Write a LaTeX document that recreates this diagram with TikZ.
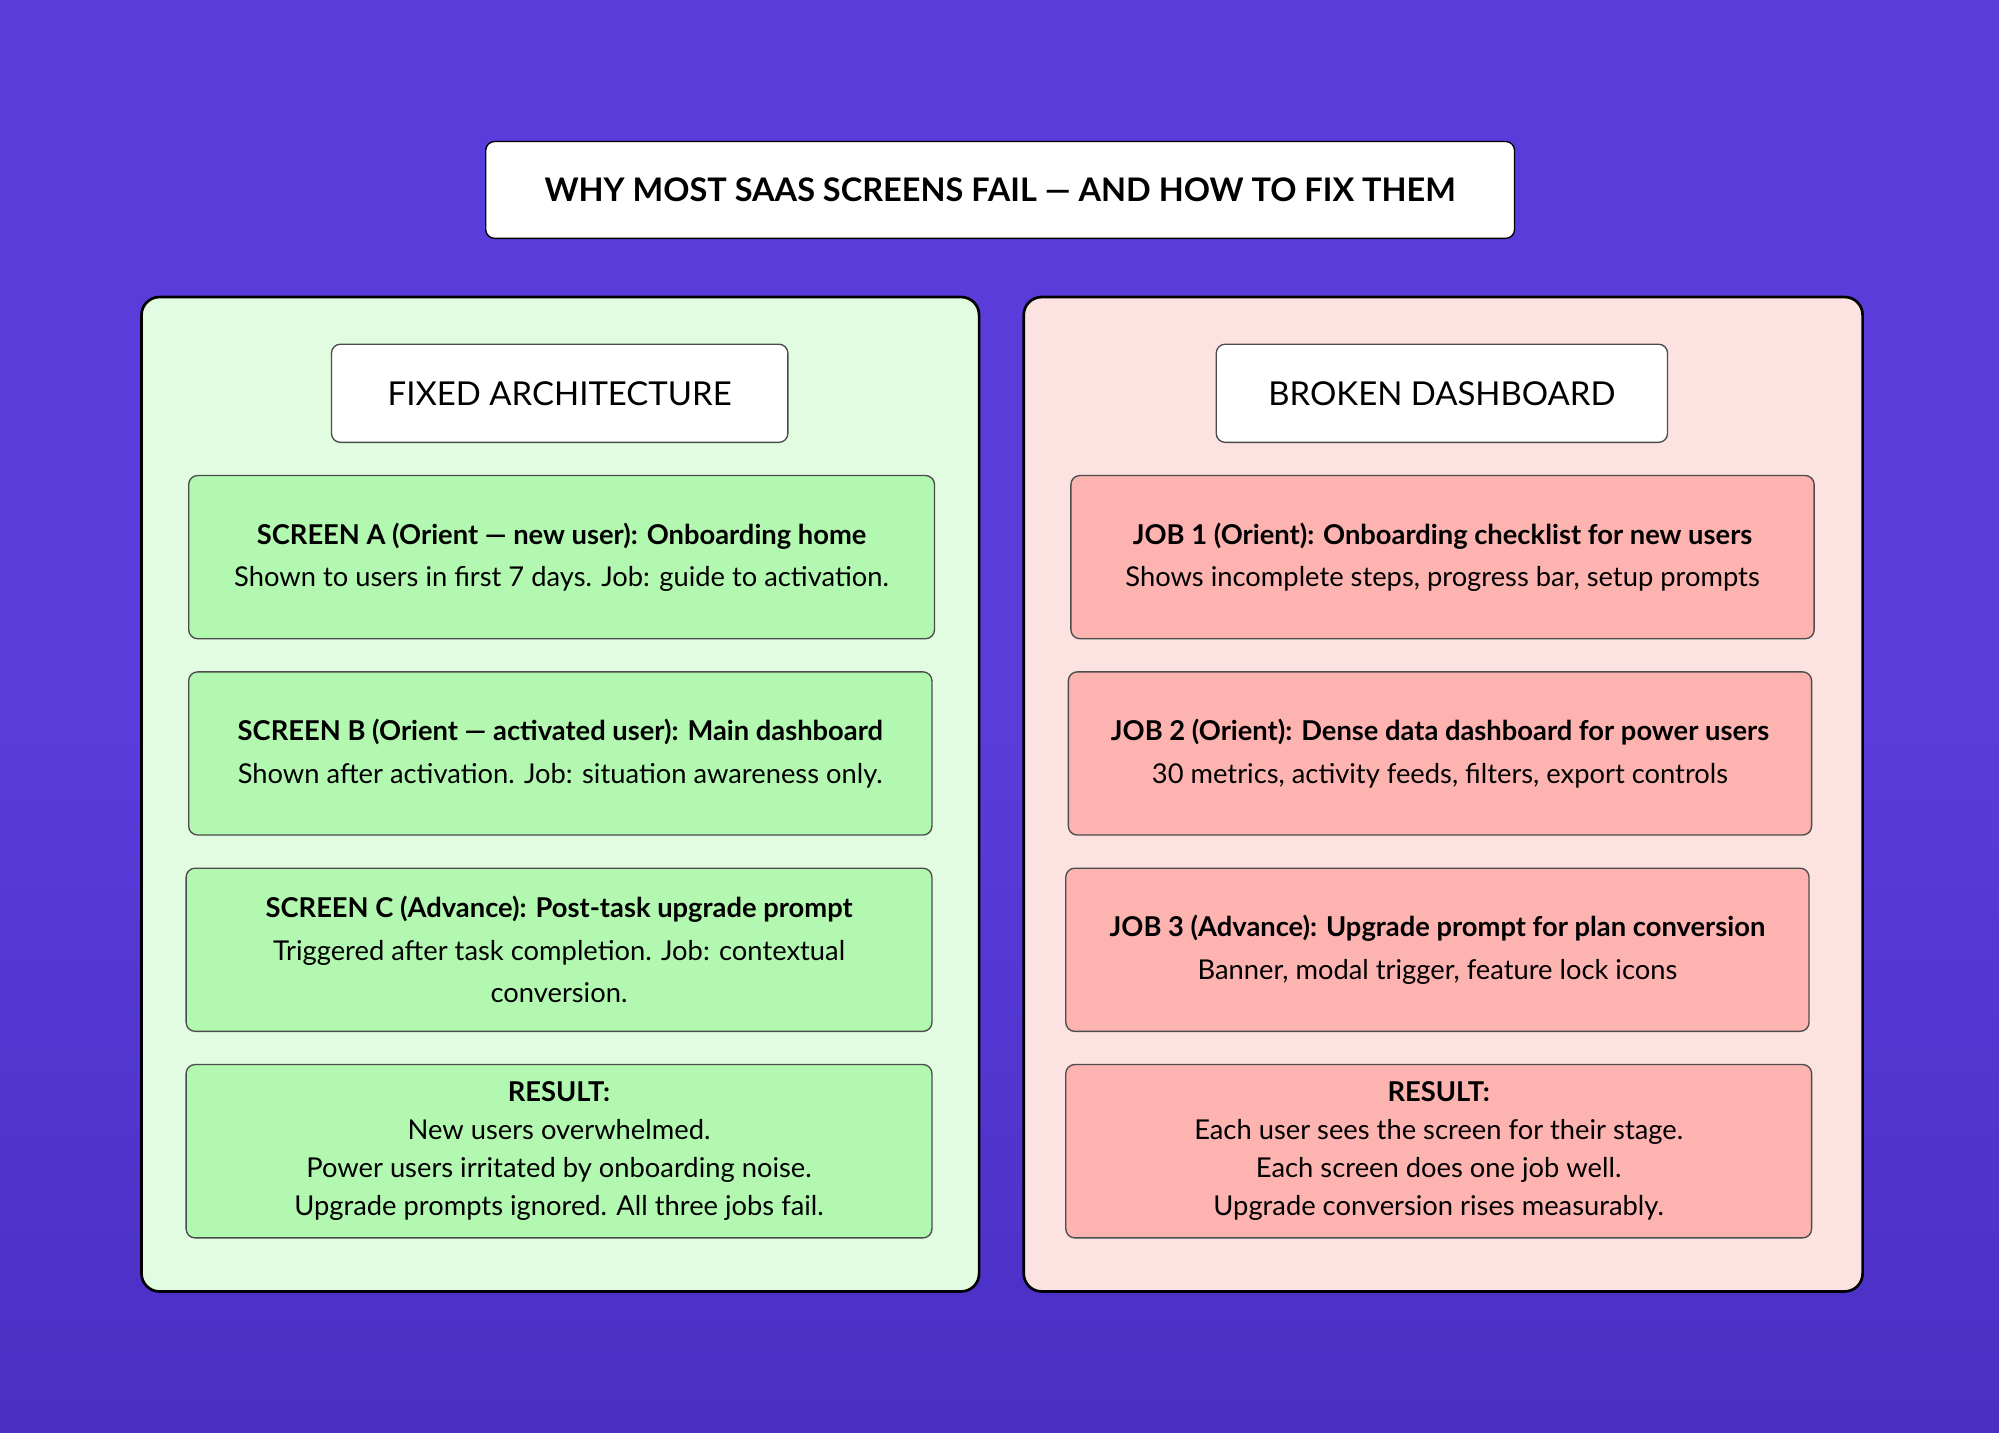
\documentclass[tikz,border=0pt]{standalone}
\usepackage{fontspec}
\setmainfont{Lato}
\begin{document}
\begin{tikzpicture}[x=0.02cm,y=-0.02cm,
 pan/.style={draw=black,line width=1.2pt,rounded corners=8pt},
 hdr/.style={draw=black!70,fill=white,rounded corners=4pt,line width=0.6pt,font=\fontsize{14.7}{17}\selectfont,align=center},
 gbox/.style={draw=black!70,fill=gfill,rounded corners=4pt,line width=0.6pt,align=center,inner sep=0pt,font=\fontsize{12.2}{19}\selectfont},
 rbox/.style={gbox,fill=rfill},
 res/.style={font=\fontsize{12.2}{17}\selectfont}]
\definecolor{bgA}{HTML}{5A3CDB}\definecolor{bgB}{HTML}{4A2FC4}
\definecolor{gfill}{HTML}{B3F8B0}\definecolor{rfill}{HTML}{FDB3B0}
\definecolor{gpan}{HTML}{E1FCE0}\definecolor{rpan}{HTML}{FDE2E2}
\shade[top color=bgA,bottom color=bgB,middle color=bgA] (0,0) rectangle (1568,1124);
\useasboundingbox (0,0) rectangle (1568,1124);
\node[hdr,draw=black,minimum width=807*0.02cm,minimum height=76*0.02cm,font=\fontsize{14.5}{16}\selectfont\bfseries] (title) at (784.5,149) {WHY MOST SAAS SCREENS FAIL — AND HOW TO FIX THEM};
\draw[pan,fill=gpan] (111,233) rectangle (768,1013) coordinate (lp);
\draw[pan,fill=rpan] (803,233) rectangle (1461,1013) coordinate (rp);
\node[hdr,minimum width=358*0.02cm,minimum height=77*0.02cm] (lh) at (439,308.5) {FIXED ARCHITECTURE};
\node[hdr,minimum width=354*0.02cm,minimum height=77*0.02cm] (rh) at (1131,308.5) {BROKEN DASHBOARD};
% left
\node[gbox,minimum width=585*0.02cm,minimum height=128*0.02cm] (a) at (440.5,437) {\textbf{SCREEN A (Orient — new user): Onboarding home}\\Shown to users in first 7 days. Job: guide to activation.};
\node[gbox,minimum width=583*0.02cm,minimum height=128*0.02cm] (b) at (439.5,591) {\textbf{SCREEN B (Orient — activated user): Main dashboard}\\Shown after activation. Job: situation awareness only.};
\node[gbox,minimum width=585*0.02cm,minimum height=128*0.02cm] (c) at (438.5,745) {\textbf{SCREEN C (Advance): Post-task upgrade prompt}\\Triggered after task completion. Job: contextual\\conversion.};
\node[gbox,res,minimum width=585*0.02cm,minimum height=136*0.02cm] (lr) at (438.5,903) {\textbf{RESULT:}\\New users overwhelmed.\\Power users irritated by onboarding noise.\\Upgrade prompts ignored. All three jobs fail.};
% right
\node[rbox,minimum width=583*0.02cm,minimum height=128*0.02cm] (j1) at (1131.5,437) {\textbf{JOB 1 (Orient): Onboarding checklist for new users}\\Shows incomplete steps, progress bar, setup prompts};
\node[rbox,minimum width=583*0.02cm,minimum height=128*0.02cm] (j2) at (1129.5,591) {\textbf{JOB 2 (Orient): Dense data dashboard for power users}\\30 metrics, activity feeds, filters, export controls};
\node[rbox,minimum width=583*0.02cm,minimum height=128*0.02cm] (j3) at (1127.5,745) {\textbf{JOB 3 (Advance): Upgrade prompt for plan conversion}\\Banner, modal trigger, feature lock icons};
\node[rbox,res,minimum width=585*0.02cm,minimum height=136*0.02cm] (rr) at (1128.5,903) {\textbf{RESULT:}\\Each user sees the screen for their stage.\\Each screen does one job well.\\Upgrade conversion rises measurably.};
\end{tikzpicture}
\end{document}
